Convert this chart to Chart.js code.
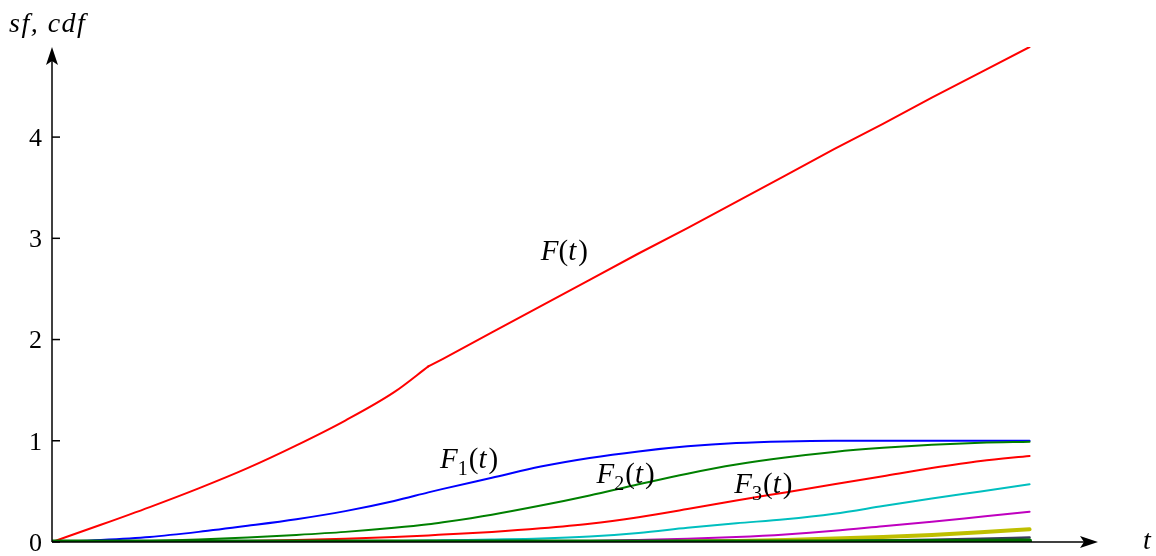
<!DOCTYPE html>
<html>
<head>
<meta charset="utf-8">
<script src="https://cdn.jsdelivr.net/npm/chart.js@4.4.1/dist/chart.umd.min.js"></script>
<style>
  html, body { margin: 0; padding: 0; background: #fff; }
  #wrap { width: 1156px; height: 556px; }
</style>
</head>
<body>
<div id="wrap"><canvas id="myChart" width="1156" height="556"></canvas></div>
<script>
"use strict";

// t-werte (x-achse)
const tValues = [0, 0.5, 1, 1.5, 2, 2.5, 3, 3.5, 3.85, 4, 4.5, 5, 5.5, 6, 6.5, 7, 7.5, 8, 8.5, 9, 9.5, 10];
// Knick von F(t) liegt bei diesem Index
const kinkIndex = 8;

// Kurven
const F  = [0, 0.17, 0.345, 0.53, 0.73, 0.955, 1.20, 1.48, 1.735, 1.81, 2.07, 2.33, 2.59, 2.85, 3.10, 3.36, 3.62, 3.88, 4.13, 4.39, 4.64, 4.89];
const F1 = [0, 0.02, 0.05, 0.10, 0.16, 0.225, 0.305, 0.405, 0.49, 0.525, 0.635, 0.745, 0.83, 0.895, 0.945, 0.978, 0.994, 1.0, 1.0, 1.0, 1.0, 1.0];
const F2 = [0, 0.003, 0.01, 0.025, 0.045, 0.07, 0.10, 0.14, 0.175, 0.195, 0.27, 0.36, 0.46, 0.57, 0.675, 0.765, 0.835, 0.89, 0.93, 0.96, 0.98, 0.99];
const F3 = [0, 0, 0.002, 0.005, 0.01, 0.02, 0.033, 0.05, 0.065, 0.073, 0.10, 0.135, 0.18, 0.245, 0.325, 0.41, 0.49, 0.57, 0.65, 0.73, 0.80, 0.85];
const F4 = [0, 0, 0, 0, 0, 0.002, 0.005, 0.01, 0.014, 0.017, 0.025, 0.035, 0.055, 0.09, 0.14, 0.185, 0.225, 0.28, 0.355, 0.43, 0.50, 0.57];
const F5 = [0, 0, 0, 0, 0, 0, 0, 0, 0, 0, 0.002, 0.005, 0.01, 0.02, 0.032, 0.05, 0.075, 0.11, 0.155, 0.20, 0.25, 0.30];
const F6 = [0, 0, 0, 0, 0, 0, 0, 0, 0, 0, 0, 0, 0, 0, 0.005, 0.01, 0.02, 0.035, 0.05, 0.07, 0.097, 0.125];
const F7 = [0, 0, 0, 0, 0, 0, 0, 0, 0, 0, 0, 0, 0, 0, 0, 0, 0.003, 0.008, 0.015, 0.022, 0.032, 0.045];
const F8 = [0, 0, 0, 0, 0, 0, 0, 0, 0, 0, 0, 0, 0, 0, 0, 0, 0, 0, 0.002, 0.004, 0.007, 0.01];

// Achsenbeschriftung
const yTicks = [0, 1, 2, 3, 4];
const yTitle = "sf, cdf";
const xTitle = "t";

// Kurvenbeschriftungen: [Haupttext, Index, t, y]
const curveLabels = [
    ["F", "", 5.0, 2.79],
    ["F", "1", 3.97, 0.73],
    ["F", "2", 5.57, 0.58],
    ["F", "3", 6.98, 0.48]
];

// Punkte aus t und Werten bauen (optional nur ein Teilbereich)
function pts(arr, from = 0, to = tValues.length - 1) {
    const out = [];
    for (let i = from; i <= to; i++) {
        out.push({ x: tValues[i], y: arr[i] });
    }
    return out;
}

function ds(data, color, width, order, straight) {
    return {
        data: data,
        borderColor: color,
        borderWidth: width,
        pointRadius: 0,
        fill: false,
        tension: 0,
        cubicInterpolationMode: straight ? "default" : "monotone",
        order: order
    };
}

const SERIF = '"Liberation Serif", "DejaVu Serif", serif';

// Zeichnet Achsen mit Pfeilen, Ticks und Texte
const axesPlugin = {
    id: "axesPlugin",
    afterDatasetsDraw(chart) {
        const ctx = chart.ctx;
        const xs = chart.scales.x;
        const ys = chart.scales.y;
        const x0 = xs.getPixelForValue(0);
        const y0 = ys.getPixelForValue(0);
        const xEnd = xs.getPixelForValue(xs.max);
        const yEnd = ys.getPixelForValue(ys.max);

        ctx.save();
        ctx.strokeStyle = "#000";
        ctx.fillStyle = "#000";
        ctx.lineWidth = 1.5;

        // y-Achse
        ctx.beginPath();
        ctx.moveTo(x0, y0);
        ctx.lineTo(x0, yEnd + 14);
        ctx.stroke();
        ctx.beginPath();
        ctx.moveTo(x0, yEnd);
        ctx.lineTo(x0 - 6, yEnd + 18);
        ctx.lineTo(x0, yEnd + 14);
        ctx.lineTo(x0 + 6, yEnd + 18);
        ctx.closePath();
        ctx.fill();

        // x-Achse
        ctx.beginPath();
        ctx.moveTo(x0, y0);
        ctx.lineTo(xEnd - 14, y0);
        ctx.stroke();
        ctx.beginPath();
        ctx.moveTo(xEnd, y0);
        ctx.lineTo(xEnd - 18, y0 - 6);
        ctx.lineTo(xEnd - 14, y0);
        ctx.lineTo(xEnd - 18, y0 + 6);
        ctx.closePath();
        ctx.fill();

        // Ticks
        ctx.font = "26px " + SERIF;
        ctx.textAlign = "right";
        ctx.textBaseline = "middle";
        yTicks.forEach(v => {
            const py = ys.getPixelForValue(v);
            ctx.beginPath();
            ctx.moveTo(x0, py);
            ctx.lineTo(x0 + 8, py);
            ctx.stroke();
            ctx.fillText(String(v), x0 - 10, py + 2);
        });

        // Achsentitel
        ctx.font = "italic 28px " + SERIF;
        ctx.textAlign = "left";
        ctx.textBaseline = "alphabetic";
        ctx.letterSpacing = "1.5px";
        ctx.fillText(yTitle, 9, 32);
        ctx.letterSpacing = "0px";
        ctx.fillText(xTitle, 1143, 549);

        // Kurvenbeschriftungen
        curveLabels.forEach(([main, sub, t, v]) => {
            let px = xs.getPixelForValue(t);
            const py = ys.getPixelForValue(v);
            ctx.font = "italic 29px " + SERIF;
            ctx.fillText(main, px, py);
            px += ctx.measureText(main).width;
            if (sub) {
                ctx.font = "20px " + SERIF;
                ctx.fillText(sub, px, py + 7);
                px += ctx.measureText(sub).width + 1;
            }
            ctx.font = "29px " + SERIF;
            ctx.fillText("(", px, py);
            px += ctx.measureText("(").width;
            ctx.font = "italic 29px " + SERIF;
            ctx.fillText("t", px, py);
            px += ctx.measureText("t").width + 2;
            ctx.font = "29px " + SERIF;
            ctx.fillText(")", px, py);
        });
        ctx.restore();
    }
};

new Chart(document.getElementById("myChart"), {
    type: "line",
    data: {
        datasets: [
            ds(pts(F8), "#006f00", 5, 0),
            ds(pts(F7), "#3a3a5c", 2.5, 1),
            ds(pts(F6), "#bfbf00", 4, 2),
            ds(pts(F5), "#bf00bf", 2, 3),
            ds(pts(F4), "#00bfbf", 2, 4),
            ds(pts(F3), "#ff0000", 2, 5),
            ds(pts(F2), "#008000", 2, 6),
            ds(pts(F1), "#0000ff", 2, 7),
            // F(t): gekrümmt bis zum Knick, danach gerade
            ds(pts(F, 0, kinkIndex), "#ff0000", 2, 8),
            ds(pts(F, kinkIndex), "#ff0000", 2, 8, true)
        ]
    },
    options: {
        responsive: false,
        animation: false,
        events: [],
        layout: { padding: { left: 52, right: 58, top: 47, bottom: 14 } },
        plugins: {
            legend: { display: false },
            tooltip: { enabled: false }
        },
        elements: { line: { borderCapStyle: "round", borderJoinStyle: "round" } },
        scales: {
            x: { type: "linear", min: 0, max: 10.7, display: false },
            y: { type: "linear", min: 0, max: 4.89, display: false }
        }
    },
    plugins: [axesPlugin]
});
</script>
</body>
</html>
